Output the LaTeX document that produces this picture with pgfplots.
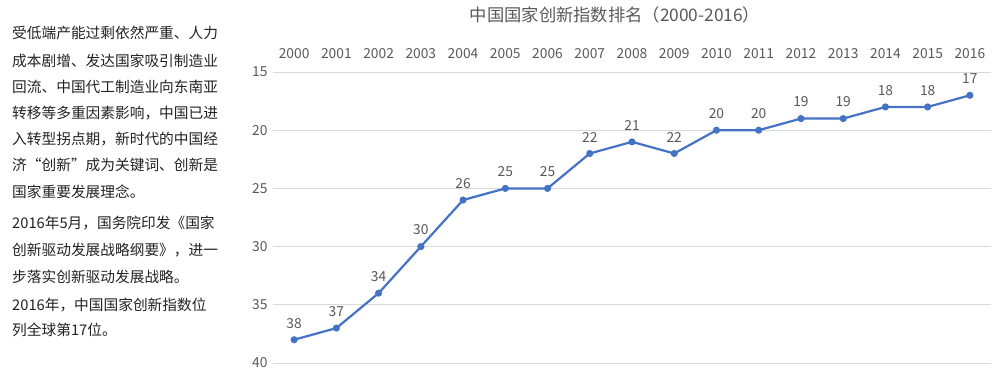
\documentclass[border=0pt]{standalone}
\usepackage{pgfplots}
\pgfplotsset{compat=1.18}
\usepackage{fontspec}
\setmainfont{Noto Sans CJK SC}
\definecolor{lineblue}{HTML}{4472C4}
\definecolor{txtgray}{HTML}{595959}
\definecolor{gridgray}{HTML}{D9D9D9}
\definecolor{txtblack}{HTML}{222222}
\begin{document}
\begin{tikzpicture}
\path[use as bounding box] (0pt,0pt) rectangle (1000pt,376pt);
\begin{scope}[every node/.style={anchor=west, inner sep=0pt, text=txtblack, font=\fontsize{14.7}{16}\selectfont}]
\node at (12pt,343pt) {受低端产能过剩依然严重、人力};
\node at (12pt,315pt) {成本剧增、发达国家吸引制造业};
\node at (12pt,289pt) {回流、中国代工制造业向东南亚};
\node at (12pt,263pt) {转移等多重因素影响，中国已进};
\node at (12pt,237pt) {入转型拐点期，新时代的中国经};
\node at (12pt,211pt) {济“创新”成为关键词、创新是};
\node at (12pt,184pt) {国家重要发展理念。};
\node at (12pt,153pt) {2016年5月，国务院印发《国家};
\node at (12pt,126pt) {创新驱动发展战略纲要》，进一};
\node at (12pt,99pt) {步落实创新驱动发展战略。};
\node at (12pt,71pt) {2016年，中国国家创新指数位};
\node at (12pt,46pt) {列全球第17位。};
\end{scope}
\node[text=txtgray, font=\fontsize{17.3}{19}\selectfont] at (615pt,361pt) {中国国家创新指数排名（2000-2016）};
\begin{axis}[
  at={(273pt,13pt)}, anchor=south west,
  scale only axis, width=718pt, height=291pt,
  xmin=-0.5, xmax=16.5, ymin=15, ymax=40,
  y dir=reverse,
  axis line style={draw=none},
  major tick length=0pt,
  xtick={0,...,16},
  xticklabels={2000,2001,2002,2003,2004,2005,2006,2007,2008,2009,2010,2011,2012,2013,2014,2015,2016},
  xticklabel pos=upper,
  ytick={15,20,25,30,35,40},
  ymajorgrids,
  grid style={gridgray, line width=1pt},
  /pgf/number format/assume math mode=true,
  tick label style={text=txtgray, font=\fontsize{13.8}{15}\selectfont},
  xticklabel style={yshift=10pt},
  yticklabel style={xshift=-2pt},
  clip=false,
]
\addplot[lineblue, line width=2.2pt, mark=*, mark size=2.4pt, mark options={fill=lineblue, draw=lineblue},
  nodes near coords,
  every node near coord/.append style={text=txtgray, font=\fontsize{13.8}{15}\selectfont, yshift=7pt}]
coordinates {(0,38)(1,37)(2,34)(3,30)(4,26)(5,25)(6,25)(7,22)(8,21)(9,22)(10,20)(11,20)(12,19)(13,19)(14,18)(15,18)(16,17)};
\end{axis}
\end{tikzpicture}
\end{document}
